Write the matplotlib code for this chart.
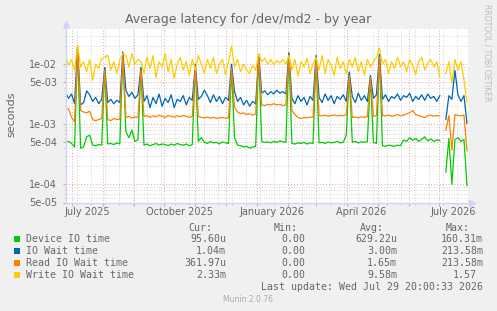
import matplotlib
matplotlib.use("Agg")
import matplotlib.pyplot as plt
import matplotlib.dates as mdates
from matplotlib.patches import Rectangle
from matplotlib.ticker import LogLocator, FixedLocator, NullFormatter, FuncFormatter
import numpy as np
import pandas as pd

W, H = 497, 311
nan = float("nan")

start = pd.Timestamp("2025-06-24 20:00")
end = pd.Timestamp("2026-07-29 20:00")
dates = pd.date_range(start, periods=134, freq="3D")

# values in milliseconds, one every 3 days
device_ms = [
    0.50, 0.52, 0.48, 0.42, 19.0, 0.40, 0.42, 0.62, 0.66, 0.45,
    0.44, 0.46, 0.45, 8.6, 0.47, 0.48, 0.46, 0.49, 0.47, 15.0,
    0.75, 0.60, 0.80, 0.52, 0.55, 8.6, 0.45, 0.47, 0.44, 0.46,
    0.48, 0.45, 0.47, 0.46, 0.44, 0.47, 0.45, 0.48, 0.46, 0.45,
    0.47, 0.44, 0.46, 10.0, 0.52, 0.60, 0.50, 0.48, 0.52, 0.49,
    0.50, 0.47, 0.51, 0.49, 0.48, 8.6, 0.60, 0.45, 0.44, 0.42,
    0.43, 0.40, 0.42, 0.43, 14.0, 0.52, 0.50, 0.51, 0.49, 0.52,
    0.50, 0.53, 0.51, 0.50, 15.0, 0.48, 0.47, 0.49, 0.48, 0.50,
    0.47, 0.49, 0.48, 13.0, 0.49, 0.50, 0.48, 0.51, 0.49, 0.50,
    0.52, 0.49, 0.50, 0.66, 7.1, 0.50, 0.52, 0.49, 0.51, 0.50,
    0.52, 6.1, 0.50, 0.48, 14.0, 0.44, 0.43, 0.45, 0.44, 0.43,
    0.45, 0.44, 0.55, 0.52, 0.60, 0.54, 0.58, 0.52, 0.56, 0.62,
    0.53, 0.57, 0.52, 0.55, 0.54, nan, 0.16, 0.58, 0.10, 0.55,
    0.60, 0.52, 0.56, 0.0956,
]
iowait_ms = [
    3.4, 2.7, 3.2, 2.2, 19.5, 2.1, 2.3, 3.6, 3.1, 2.4,
    2.8, 2.2, 2.6, 8.8, 2.3, 2.6, 2.2, 2.5, 2.3, 16.0,
    3.7, 2.9, 3.4, 2.7, 3.1, 8.8, 2.4, 3.0, 1.9, 2.8,
    2.2, 3.2, 2.0, 2.7, 2.3, 3.1, 1.9, 2.6, 2.4, 3.0,
    2.1, 2.8, 2.5, 9.8, 2.6, 2.9, 3.7, 3.0, 2.3, 3.1,
    2.4, 2.9, 2.2, 2.8, 2.5, 10.0, 3.5, 2.4, 2.8, 2.1,
    2.5, 2.0, 2.4, 2.2, 14.5, 3.3, 3.6, 3.1, 3.5, 3.2,
    3.7, 3.3, 3.5, 3.2, 15.5, 2.7, 2.2, 3.0, 2.4, 2.8,
    2.1, 2.9, 2.5, 14.0, 2.8, 2.3, 3.2, 2.5, 3.0, 2.2,
    2.9, 2.6, 3.1, 2.4, 7.4, 2.9, 2.3, 3.3, 2.5, 3.0,
    2.4, 6.5, 2.7, 3.1, 14.5, 2.6, 3.1, 2.4, 2.9, 2.7,
    3.2, 2.5, 3.0, 2.8, 3.3, 2.4, 2.9, 2.6, 3.1, 2.5,
    3.2, 2.7, 2.9, 2.4, 3.0, nan, 1.2, 3.0, 2.6, 7.9,
    3.1, 2.4, 3.0, 1.04,
]
read_ms = [
    1.85, 1.80, 1.30, 1.10, 17.0, 1.70, 1.60, 1.55, 1.65, 1.20,
    1.15, 1.20, 1.25, 8.0, 1.20, 1.15, 1.25, 1.20, 1.22, 14.0,
    1.30, 1.35, 1.28, 1.32, 1.30, 8.0, 1.35, 1.40, 1.30, 1.38,
    1.33, 1.42, 1.36, 1.30, 1.40, 1.35, 1.32, 1.38, 1.34, 1.40,
    1.36, 1.31, 1.35, 9.0, 1.35, 1.30, 1.28, 1.32, 1.27, 1.30,
    1.25, 1.28, 1.30, 1.26, 1.29, 8.5, 1.95, 1.60, 1.50, 1.55,
    1.45, 1.50, 1.42, 1.48, 13.0, 2.10, 2.05, 2.15, 2.10, 2.20,
    2.10, 2.15, 2.05, 2.10, 14.0, 1.70, 1.45, 1.30, 1.25, 1.30,
    1.28, 1.32, 1.30, 12.0, 1.40, 1.38, 1.42, 1.36, 1.40, 1.43,
    1.38, 1.41, 1.39, 1.42, 6.5, 1.30, 1.32, 1.28, 1.33, 1.30,
    1.35, 6.0, 1.35, 1.40, 13.0, 1.40, 1.38, 1.42, 1.36, 1.40,
    1.45, 1.38, 1.42, 1.50, 1.55, 1.70, 1.45, 1.40, 1.35, 1.30,
    1.38, 1.42, 1.36, 1.40, 1.38, nan, 0.80, 1.40, 0.37, 1.45,
    1.40, 1.38, 1.42, 0.362,
]
write_ms = [
    14.0, 9.6, 12.0, 8.0, 21.0, 9.0, 11.0, 7.5, 12.0, 5.4,
    10.0, 8.5, 12.5, 13.0, 14.0, 8.0, 11.0, 7.0, 12.0, 15.0,
    14.0, 9.0, 15.0, 10.0, 12.0, 11.0, 7.0, 13.0, 8.5, 14.0,
    6.0, 11.0, 9.0, 15.0, 7.5, 12.0, 5.8, 10.0, 13.0, 8.0,
    11.0, 6.5, 12.0, 8.0, 14.0, 10.0, 7.0, 12.0, 8.5, 13.0,
    7.0, 10.0, 12.0, 6.8, 11.0, 20.0, 9.0, 12.0, 7.5, 10.0,
    8.0, 7.0, 9.5, 8.0, 15.0, 11.0, 12.5, 10.0, 12.0, 9.8,
    11.5, 10.5, 12.0, 10.0, 14.0, 8.0, 12.0, 6.3, 11.0, 9.0,
    12.5, 7.0, 10.0, 13.0, 8.0, 14.0, 7.0, 12.0, 9.5, 6.5,
    13.0, 8.5, 11.0, 7.0, 12.0, 9.0, 13.0, 7.5, 11.0, 6.5,
    12.0, 9.0, 11.0, 13.0, 18.5, 10.0, 12.0, 7.0, 11.0, 8.5,
    13.0, 9.0, 11.0, 7.5, 12.0, 9.5, 6.8, 11.0, 13.0, 8.0,
    10.5, 12.0, 9.0, 11.0, 6.0, nan, 7.0, 11.0, 4.8, 12.0,
    8.0, 11.0, 5.5, 2.33,
]

names = ["Device IO time", "IO Wait time", "Read IO Wait time", "Write IO Wait time"]
colors = ["#00CC00", "#0066B3", "#FF8000", "#FFCC00"]
cur_vals = ["95.60u", "1.04m", "361.97u", "2.33m"]
min_vals = ["0.00", "0.00", "0.00", "0.00"]
avg_vals = ["629.22u", "3.00m", "1.65m", "9.58m"]
max_vals = ["160.31m", "213.58m", "213.58m", "1.57"]
month_labels = ["July 2025", "October 2025", "January 2026", "April 2026", "July 2026"]
month_label_dates = ["2025-07-16", "2025-10-16", "2026-01-16", "2026-04-15", "2026-07-15"]

FONT = "#666666"
AXIS = "#CFD6F8"


def px(x, y):
    return x / W, 1 - y / H


fig = plt.figure(figsize=(W / 100, H / 100), dpi=100, facecolor="#F0F0F0")
left, top, right, bottom = 65.5, 28, 468, 202.5
ax = fig.add_axes([left / W, 1 - bottom / H, (right - left) / W, (bottom - top) / H])
ax.set_facecolor("white")

for vals, c in zip([device_ms, iowait_ms, read_ms, write_ms], colors):
    ax.plot(dates, np.array(vals) * 1e-3, color=c, lw=0.9)

ax.set_yscale("log")
ax.set_ylim(5e-5, 4e-2)
ax.set_xlim(start, end)

ax.yaxis.set_major_locator(LogLocator(base=10, subs=(1.0, 5.0)))
ax.yaxis.set_minor_locator(LogLocator(base=10, subs=(2, 3, 4, 6, 7, 8, 9)))
ax.yaxis.set_major_formatter(FuncFormatter(lambda v, p: f"{v:.0e}"))
ax.yaxis.set_minor_formatter(NullFormatter())

ax.xaxis.set_major_locator(mdates.MonthLocator())
ax.xaxis.set_major_formatter(NullFormatter())
minor_days = pd.date_range("2025-07-06", end, freq="14D")
ax.xaxis.set_minor_locator(FixedLocator(mdates.date2num(minor_days)))
ax.xaxis.set_minor_formatter(NullFormatter())

ax.grid(which="major", color="#E8A0A0", linestyle=(0, (1, 2)), lw=0.7)
ax.grid(which="minor", color="#C8C8C8", linestyle=(0, (1, 2)), lw=0.6)
ax.set_axisbelow(True)

ax.tick_params(which="major", axis="both", length=2, color="#E8A0A0",
               labelsize=7, labelcolor=FONT, pad=4)
ax.tick_params(which="minor", axis="both", length=1.5, color="#C8C8C8")

for s in ["top", "right"]:
    ax.spines[s].set_visible(False)
for s in ["left", "bottom"]:
    ax.spines[s].set_color(AXIS)
    ax.spines[s].set_linewidth(1.0)

# axis arrows
ax.plot([0], [1 + 4 / (bottom - top)], marker="^", ms=4, color=AXIS,
        transform=ax.transAxes, clip_on=False)
ax.plot([0, 0], [1, 1 + 4 / (bottom - top)], color=AXIS, lw=1,
        transform=ax.transAxes, clip_on=False)
ax.plot([1, 1 + 4 / (right - left)], [0, 0], color=AXIS, lw=1,
        transform=ax.transAxes, clip_on=False)
ax.plot([1 + 4 / (right - left)], [0], marker=">", ms=4, color=AXIS,
        transform=ax.transAxes, clip_on=False)

lab_y = (bottom - 212) / (bottom - top)
for lab, d in zip(month_labels, month_label_dates):
    ax.text(mdates.date2num(pd.Timestamp(d)), lab_y, lab, transform=ax.get_xaxis_transform(),
            ha="center", va="center", fontsize=7, color=FONT)

fig.text(*px(248, 19), "Average latency for /dev/md2 - by year", ha="center", va="center",
         fontsize=9, color=FONT)
fig.text(*px(11, 114), "seconds", rotation=90, ha="center", va="center", fontsize=8, color=FONT)
fig.text(*px(487, 4), "RRDTOOL / TOBI OETIKER", rotation=270, ha="center", va="top",
         fontsize=5.5, color="#BBBBBB")

mono = dict(family="DejaVu Sans Mono", fontsize=7.15, color=FONT, va="center")
cw = 5.98
fig.text(*px(212, 227.7), "Cur:", ha="right", **mono)
fig.text(*px(298, 227.7), "Min:", ha="right", **mono)
fig.text(*px(384, 227.7), "Avg:", ha="right", **mono)
fig.text(*px(470, 227.7), "Max:", ha="right", **mono)

col_right = [226, 305, 397, 483]
for k, (nm, c) in enumerate(zip(names, colors)):
    y = 239.3 + 12 * k
    fig.patches.append(Rectangle(px(14, y + 3), 6 / W, 6 / H, transform=fig.transFigure,
                                 facecolor=c, edgecolor="none"))
    fig.text(*px(26, y), nm, ha="left", **mono)
    for xr, v in zip(col_right, [cur_vals[k], min_vals[k], avg_vals[k], max_vals[k]]):
        shift = cw if v[-1].isdigit() and xr == 483 else 0
        fig.text(*px(xr - shift, y), v, ha="right", **mono)

fig.text(*px(483, 287.3), "Last update: Wed Jul 29 20:00:33 2026", ha="right", **mono)
fig.text(*px(248, 300), "Munin 2.0.76", ha="center", va="center", fontsize=5.5, color="#AAAAAA")

fig.savefig("out.png", dpi=100, facecolor=fig.get_facecolor())
